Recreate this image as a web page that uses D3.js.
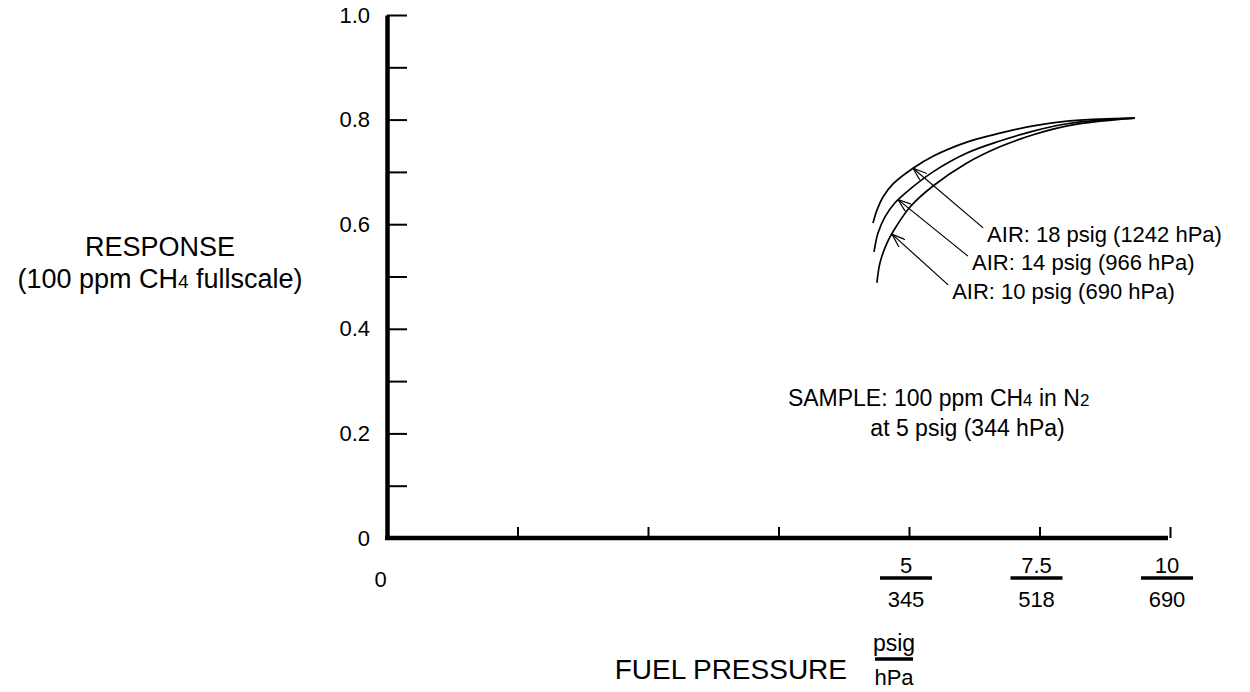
<!DOCTYPE html>
<html lang="en">
<head>
<meta charset="utf-8">
<title>Response vs Fuel Pressure</title>
<script src="https://cdn.jsdelivr.net/npm/d3@7/dist/d3.min.js"></script>
<style>
	body { margin: 0; background: #fff; }
	svg text { font-family: Arial, "Liberation Sans", sans-serif; fill: #000; }
</style>
</head>
<body>
<script>
	// axis ticks (psig on the x axis, response fraction on y)
	var xTicks = [0, 1.25, 2.5, 3.75, 5, 7.5, 10];
	var yTicks = [0, 0.1, 0.2, 0.3, 0.4, 0.5, 0.6, 0.7, 0.8, 0.9, 1.0];
	var fracValues = [5, 7.5, 10];
	var fracPsig = ["5", "7.5", "10"];
	var fracHpa = ["345", "518", "690"];

	// response curves: [fuel psig, response]
	var air18 = [[4.655, 0.602], [4.693, 0.627], [4.751, 0.652], [4.847, 0.677], [5.077, 0.707],
		[5.46, 0.730], [6.11, 0.757], [6.74, 0.774], [7.38, 0.788], [8.03, 0.797],
		[8.66, 0.801], [9.33, 0.803]];
	var air14 = [[4.665, 0.547], [4.703, 0.583], [4.770, 0.614], [4.866, 0.641], [5.02, 0.667],
		[5.46, 0.700], [6.11, 0.736], [6.74, 0.759], [7.38, 0.778], [8.03, 0.792],
		[8.66, 0.799], [9.33, 0.803]];
	var air10 = [[4.693, 0.488], [4.722, 0.526], [4.789, 0.564], [4.885, 0.598], [5.02, 0.633],
		[5.46, 0.673], [6.11, 0.717], [6.74, 0.748], [7.38, 0.771], [8.03, 0.788],
		[8.66, 0.797], [9.33, 0.803]];

	var airLabels = ["AIR: 18 psig (1242 hPa)", "AIR: 14 psig (966 hPa)", "AIR: 10 psig (690 hPa)"];
	var arrowTips = [[5.077, 0.707], [4.895, 0.647], [4.837, 0.581]];
	var arrowTails = [[6.42, 0.593], [6.13, 0.539], [5.75, 0.484]];

	var outerWidth = 1250,
		outerHeight = 692,
		margin = {top: 15, left: 387};

	var x = d3.scaleLinear().domain([0, 5, 10]).range([0, 522, 783]);
	var y = d3.scaleLinear().domain([0, 1]).range([523, 0]);

	var svg = d3.select("body").append("svg")
		.attr("width", outerWidth)
		.attr("height", outerHeight);

	svg.append("defs").append("marker")
		.attr("id", "head")
		.attr("viewBox", "0 0 14 10")
		.attr("refX", 14).attr("refY", 5)
		.attr("markerWidth", 14).attr("markerHeight", 10)
		.attr("markerUnits", "userSpaceOnUse")
		.attr("orient", "auto")
		.append("path")
		.attr("d", "M0,0 L14,5 L0,10")
		.attr("fill", "none")
		.attr("stroke", "#000")
		.attr("stroke-width", 1.2);

	var g = svg.append("g")
		.attr("transform", "translate(" + margin.left + "," + margin.top + ")");

	// y axis
	var yAxis = d3.axisLeft(y)
		.tickValues(yTicks)
		.tickSize(-20)
		.tickSizeOuter(0)
		.tickPadding(17)
		.tickFormat(function(d) {
			var k = Math.round(d * 10);
			if (k % 2) return "";
			return k === 0 ? "0" : d3.format(".1f")(d);
		});
	var gy = g.append("g").call(yAxis);
	gy.attr("font-family", null).attr("font-size", 22);
	gy.select(".domain").attr("stroke-width", 4.5);
	gy.selectAll(".tick line").attr("stroke-width", 2);

	// x axis
	var xAxis = d3.axisBottom(x)
		.tickValues(xTicks)
		.tickSize(-11)
		.tickSizeOuter(0)
		.tickPadding(33)
		.tickFormat(function(d) { return d === 0 ? "0" : ""; });
	var gx = g.append("g")
		.attr("transform", "translate(0," + y(0) + ")")
		.call(xAxis);
	gx.attr("font-family", null).attr("font-size", 22);
	gx.select(".domain").attr("stroke-width", 4.5).attr("d", "M-2,0H" + (x(10) - 2));
	gx.selectAll(".tick line").attr("stroke-width", 2);
	gx.selectAll(".tick text").attr("dx", -7);

	// psig / hPa fraction labels
	var frac = g.append("g").selectAll("g")
		.data(fracValues)
		.enter().append("g")
		.attr("transform", function(d) { return "translate(" + (x(d) - 3) + "," + y(0) + ")"; });
	frac.append("text")
		.attr("y", 35)
		.attr("text-anchor", "middle")
		.attr("font-size", 22)
		.text(function(d, i) { return fracPsig[i]; });
	frac.append("line")
		.attr("x1", -26).attr("x2", 26)
		.attr("y1", 40).attr("y2", 40)
		.attr("stroke", "#000")
		.attr("stroke-width", 3.5);
	frac.append("text")
		.attr("y", 69)
		.attr("text-anchor", "middle")
		.attr("font-size", 22)
		.text(function(d, i) { return fracHpa[i]; });

	// curves
	var line = d3.line()
		.x(function(d) { return x(d[0]); })
		.y(function(d) { return y(d[1]); })
		.curve(d3.curveCatmullRom.alpha(0.5));

	g.append("g").selectAll("path")
		.data([air18, air14, air10])
		.enter().append("path")
		.attr("d", line)
		.attr("fill", "none")
		.attr("stroke", "#000")
		.attr("stroke-width", 1.7);

	// arrows + labels
	g.append("g").selectAll("line")
		.data(arrowTips)
		.enter().append("line")
		.attr("x1", function(d, i) { return x(arrowTails[i][0]); })
		.attr("y1", function(d, i) { return y(arrowTails[i][1]); })
		.attr("x2", function(d) { return x(d[0]); })
		.attr("y2", function(d) { return y(d[1]); })
		.attr("stroke", "#000")
		.attr("stroke-width", 1.2)
		.attr("marker-end", "url(#head)");

	g.append("g").selectAll("text")
		.data(airLabels)
		.enter().append("text")
		.attr("x", function(d, i) { return x(arrowTails[i][0]) + 4; })
		.attr("y", function(d, i) { return y(arrowTails[i][1]) + 14; })
		.attr("font-size", 22)
		.text(function(d) { return d; });

	// sample note
	var note = g.append("text")
		.attr("font-size", 23)
		.attr("x", x(3.84))
		.attr("y", y(0.252));
	note.append("tspan").text("SAMPLE: 100 ppm CH");
	note.append("tspan").attr("font-size", 17).text("4");
	note.append("tspan").text(" in N");
	note.append("tspan").attr("font-size", 17).text("2");
	g.append("text")
		.attr("font-size", 23)
		.attr("x", x(4.63))
		.attr("y", y(0.195))
		.text("at 5 psig (344 hPa)");

	// axis titles
	svg.append("text")
		.attr("x", 160).attr("y", 256)
		.attr("text-anchor", "middle")
		.attr("font-size", 27)
		.text("RESPONSE");
	var sub = svg.append("text")
		.attr("x", 160).attr("y", 288)
		.attr("text-anchor", "middle")
		.attr("font-size", 27);
	sub.append("tspan").text("(100 ppm CH");
	sub.append("tspan").attr("font-size", 19).text("4");
	sub.append("tspan").text(" fullscale)");

	svg.append("text")
		.attr("x", 847).attr("y", 679)
		.attr("text-anchor", "end")
		.attr("font-size", 28)
		.text("FUEL PRESSURE");
	svg.append("text")
		.attr("x", 894).attr("y", 651)
		.attr("text-anchor", "middle")
		.attr("font-size", 23)
		.text("psig");
	svg.append("line")
		.attr("x1", 875).attr("x2", 913)
		.attr("y1", 659).attr("y2", 659)
		.attr("stroke", "#000")
		.attr("stroke-width", 3.5);
	svg.append("text")
		.attr("x", 894).attr("y", 685)
		.attr("text-anchor", "middle")
		.attr("font-size", 22)
		.text("hPa");
</script>
</body>
</html>
